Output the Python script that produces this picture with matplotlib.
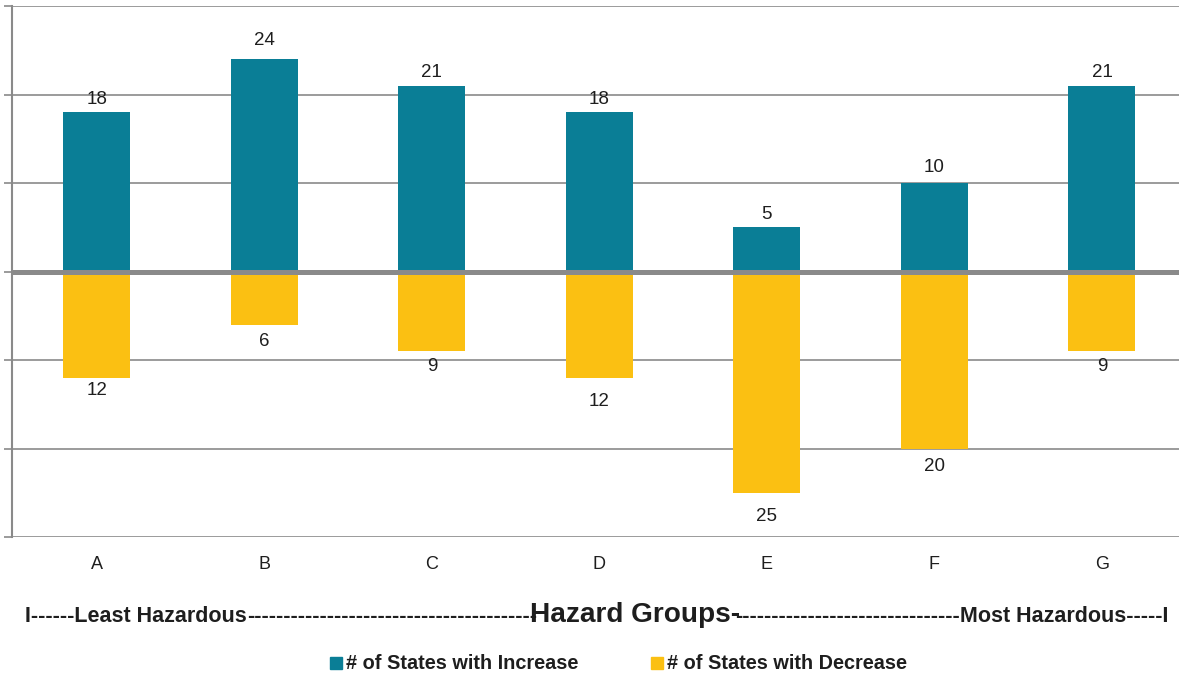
import math
import matplotlib
matplotlib.use("Agg")
import matplotlib.pyplot as plt
from matplotlib.patches import Rectangle
import numpy as np

# Hazard groups and state counts
groups = ["A", "B", "C", "D", "E", "F", "G"]
states_increase = [18, 24, 21, 18, 5, 10, 21]
states_decrease = [12, 6, 9, 12, 25, 20, 9]
legend_labels = ["# of States with Increase", "# of States with Decrease"]

TEAL = "#0a7e96"
GOLD = "#fbc012"
GRID = "#8a8a8a"
TEXT = "#1e1e1e"
FONT = ["Liberation Sans", "DejaVu Sans"]

W, H = 1179, 675
fig = plt.figure(figsize=(W / 100, H / 100), dpi=100)
ax = fig.add_axes([12 / W, 1 - 537 / H, 1 - 12 / W, (537 - 6) / H])

x = np.arange(len(groups))
inc = np.array(states_increase)
dec = -np.array(states_decrease)

ax.bar(x, inc, width=0.4, color=TEAL, zorder=2)
ax.bar(x, dec, width=0.4, color=GOLD, zorder=2)
ax.axhline(0, color=GRID, lw=3.6, zorder=3)

ax.set_ylim(-30, 30)
ax.set_xlim(-0.507, 6.46)
ax.set_yticks(np.arange(-30, 31, 10))
ax.yaxis.grid(True, color=GRID, lw=1.2, zorder=0)
ax.tick_params(axis="y", length=6, width=1.2, color=GRID, labelleft=False)
ax.set_xticks(x)
ax.set_xticklabels(groups, family=FONT, fontsize=13, color=TEXT)
ax.tick_params(axis="x", length=0, pad=14)
for s in ["top", "right", "bottom"]:
    ax.spines[s].set_visible(False)
ax.spines["left"].set_color(GRID)
ax.spines["left"].set_linewidth(1.5)

# value labels above/below each bar (gaps in pixels)
inc_gap = [13, 19, 13, 13, 13, 16, 13]
dec_gap = [13, 17, 15, 24, 24, 18, 15]
for xi, v, g in zip(x, inc, inc_gap):
    ax.annotate(str(v), (xi, v), xytext=(0, g * 0.72), textcoords="offset points",
                ha="center", va="center", fontsize=13.5, family=FONT, color=TEXT)
for xi, v, g in zip(x, dec, dec_gap):
    ax.annotate(str(-v), (xi, v), xytext=(0, -g * 0.72), textcoords="offset points",
                ha="center", va="center", fontsize=13.5, family=FONT, color=TEXT)


def fx(px):
    return px / W


def fy(py):
    return 1 - py / H


# hazard scale caption
small = dict(fontsize=15.5, fontweight="bold", family=FONT, color=TEXT, va="baseline")
big = dict(fontsize=20.2, fontweight="bold", family=FONT, color=TEXT, va="baseline")
base = 622
t_left = fig.text(fx(25), fy(base), "I------Least Hazardous", ha="left", **small)
t_mid = fig.text(fx(530), fy(base), "Hazard Groups-", ha="left", **big)
t_right = fig.text(fx(1168), fy(base), "Most Hazardous-----I", ha="right", **small)

fig.canvas.draw()
r = fig.canvas.get_renderer()
probe = fig.text(0, 0, "-" * 20, **small)
dash_w = probe.get_window_extent(r).width / 20
probe.remove()
bl = t_left.get_window_extent(r)
bm = t_mid.get_window_extent(r)
br = t_right.get_window_extent(r)
n1 = math.ceil((bm.x0 - bl.x1) / dash_w)
fig.text(bl.x1 / W, fy(base), "-" * n1, ha="left", **small)
n2 = math.ceil((br.x0 - bm.x1) / dash_w)
fig.text(br.x0 / W, fy(base), "-" * n2, ha="right", **small)

# legend
leg = dict(fontsize=14.3, fontweight="bold", family=FONT, color=TEXT, va="baseline")
for sq_x, col, lab in [(330, TEAL, legend_labels[0]), (651, GOLD, legend_labels[1])]:
    fig.patches.append(Rectangle((fx(sq_x), fy(669)), 12 / W, 12 / H,
                                 transform=fig.transFigure, color=col))
    fig.text(fx(sq_x + 16), fy(669), lab, ha="left", **leg)

fig.savefig("out.png", dpi=100)
